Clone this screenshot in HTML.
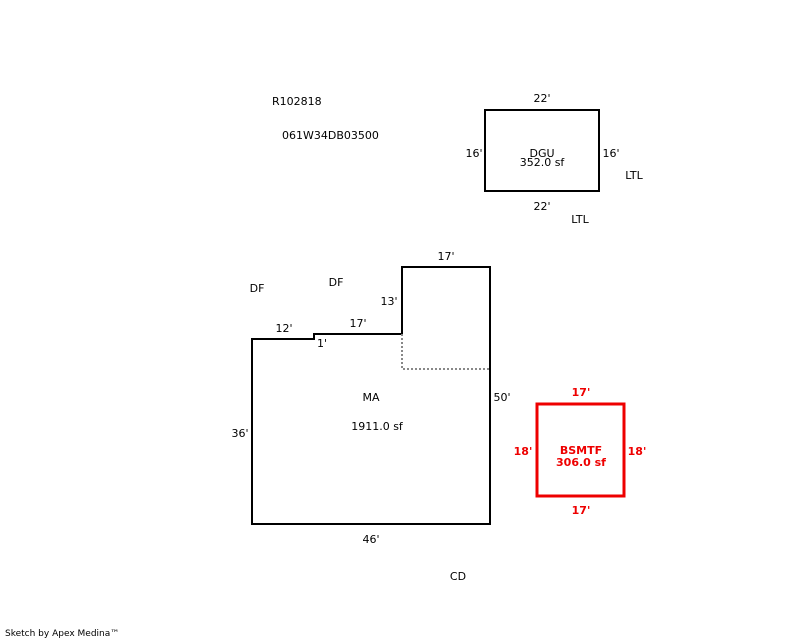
<!DOCTYPE html>
<html><head><meta charset="utf-8"><style>
html,body{margin:0;padding:0;background:#fff;width:800px;height:640px;overflow:hidden}
svg text{font-family:"DejaVu Sans","Liberation Sans",sans-serif;font-size:11px;fill:#000}
</style></head><body>
<svg width="800" height="640" xmlns="http://www.w3.org/2000/svg">
<text x="272" y="105">R102818</text>
<text x="282" y="139">061W34DB03500</text>
<rect x="485" y="110" width="114" height="81" fill="none" stroke="#000" stroke-width="2"/>
<text x="542" y="102" text-anchor="middle">22'</text>
<text x="542" y="210" text-anchor="middle">22'</text>
<text x="474" y="157" text-anchor="middle">16'</text>
<text x="611" y="157" text-anchor="middle">16'</text>
<text x="542" y="157" text-anchor="middle">DGU</text>
<text x="542" y="166" text-anchor="middle">352.0 sf</text>
<text x="634" y="179" text-anchor="middle">LTL</text>
<text x="580" y="223" text-anchor="middle">LTL</text>
<text x="257" y="292" text-anchor="middle">DF</text>
<text x="336" y="286" text-anchor="middle">DF</text>
<path d="M252,339 L314,339 L314,334 L402,334 L402,267 L490,267 L490,524 L252,524 Z" fill="none" stroke="#000" stroke-width="2"/>
<path d="M402,334 L402,369 L490,369" fill="none" stroke="#888" stroke-width="2" stroke-dasharray="2,2"/>
<text x="446" y="260" text-anchor="middle">17'</text>
<text x="389" y="305" text-anchor="middle">13'</text>
<text x="358" y="327" text-anchor="middle">17'</text>
<text x="284" y="332" text-anchor="middle">12'</text>
<text x="322" y="347" text-anchor="middle">1'</text>
<text x="502" y="401" text-anchor="middle">50'</text>
<text x="240" y="437" text-anchor="middle">36'</text>
<text x="371" y="401" text-anchor="middle">MA</text>
<text x="377" y="430" text-anchor="middle">1911.0 sf</text>
<text x="371" y="543" text-anchor="middle">46'</text>
<text x="458" y="580" text-anchor="middle">CD</text>
<rect x="537" y="404" width="87" height="92" fill="none" stroke="#e00" stroke-width="3"/>
<g style="font-weight:bold">
<text x="581" y="396" text-anchor="middle" style="fill:#e00;font-weight:bold">17'</text>
<text x="581" y="514" text-anchor="middle" style="fill:#e00;font-weight:bold">17'</text>
<text x="523" y="455" text-anchor="middle" style="fill:#e00;font-weight:bold">18'</text>
<text x="637" y="455" text-anchor="middle" style="fill:#e00;font-weight:bold">18'</text>
<text x="581" y="454" text-anchor="middle" style="fill:#e00;font-weight:bold">BSMTF</text>
<text x="581" y="466" text-anchor="middle" style="fill:#e00;font-weight:bold">306.0 sf</text>
</g>
<text x="5" y="636" style="font-size:9px">Sketch by Apex Medina™</text>
</svg>
</body></html>
